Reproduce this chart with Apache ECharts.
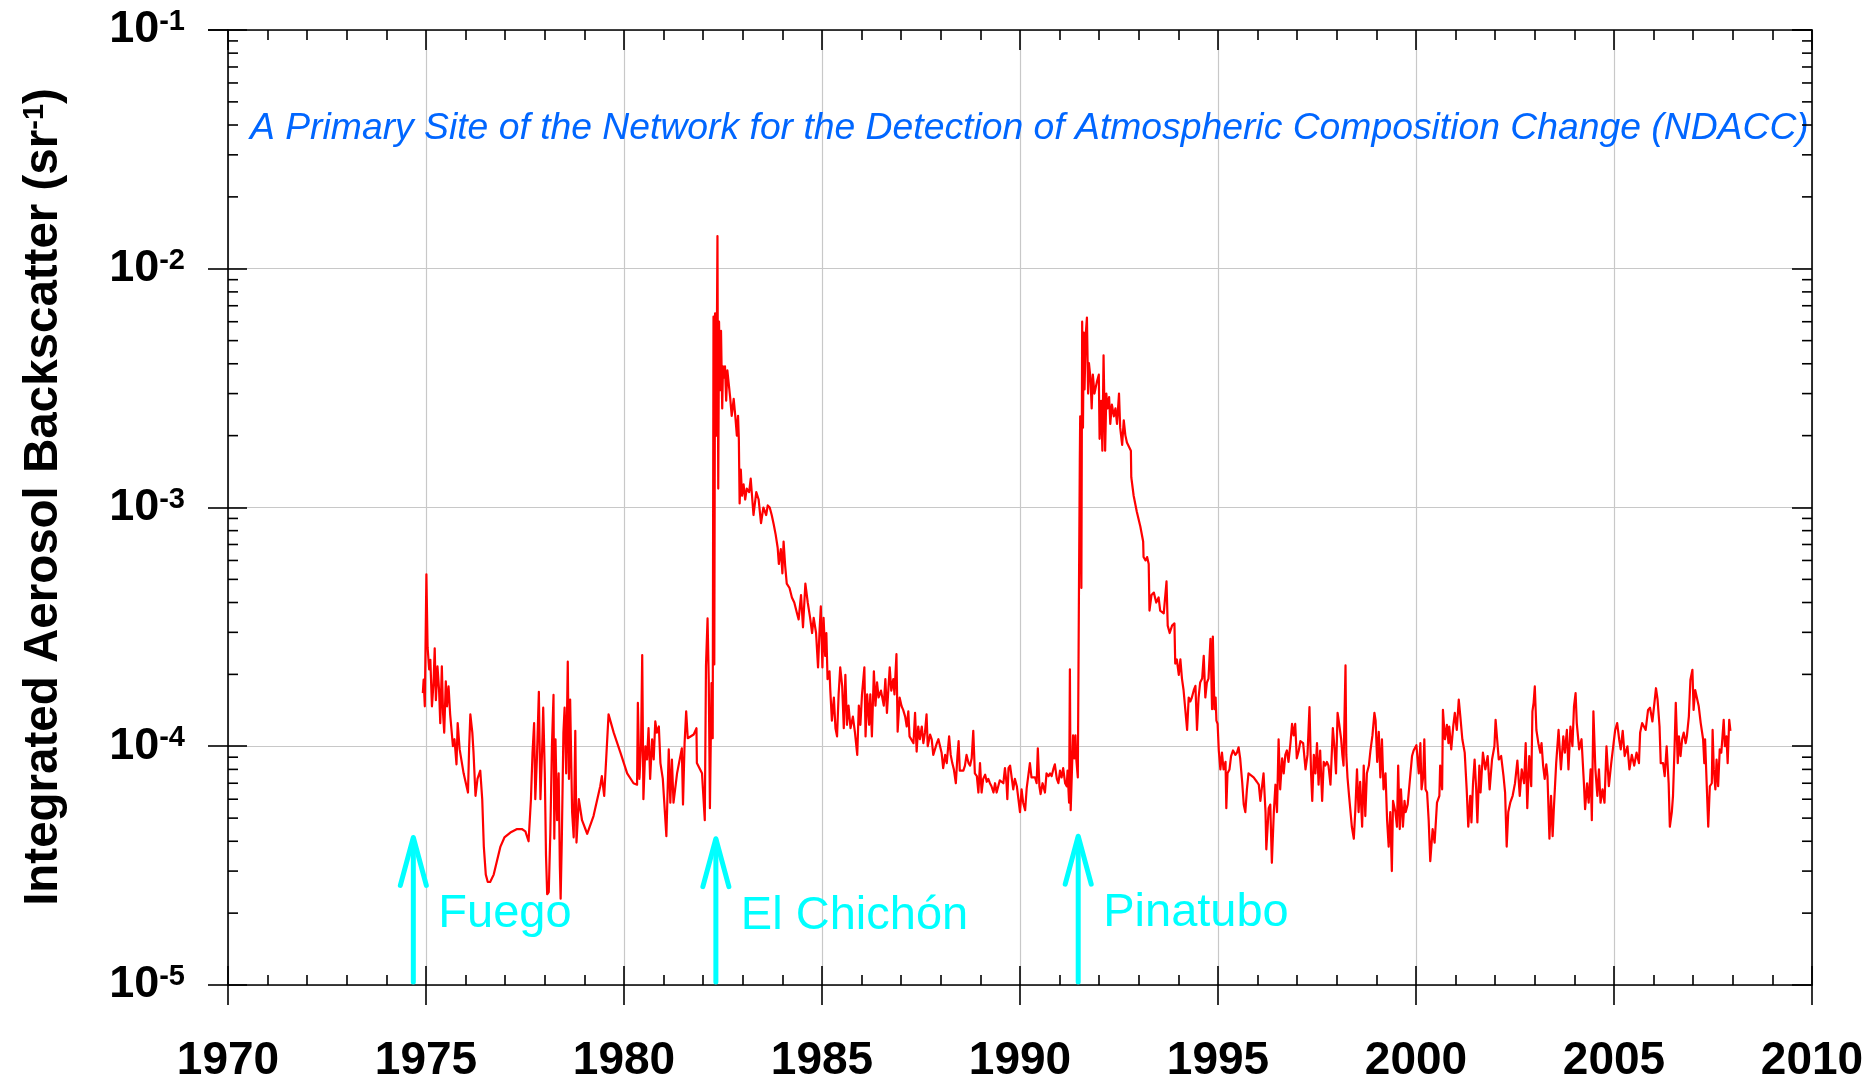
<!DOCTYPE html>
<html>
<head>
<meta charset="utf-8">
<script src="https://cdn.jsdelivr.net/npm/echarts@6/dist/echarts.min.js"></script>
<style>
html,body{margin:0;padding:0;background:#fff;}
#chart{width:1869px;height:1084px;}
</style>
</head>
<body>
<div id="chart"></div>
<script>
// ---------------- data ----------------
const xMin = 1970, xMax = 2010, xStep = 5;
const yMin = 1e-5, yMax = 1e-1;
const baselineLevel = 6e-5;               // dashed cyan background line
const subtitleText = 'A Primary Site of the Network for the Detection of Atmospheric Composition Change (NDACC)';
const yTitleMain = 'Integrated Aerosol Backscatter (sr';
const yTitleSup = '-1';

const volcanoNames = ['Fuego', 'El Chichón', 'Pinatubo'];
const volcanoYears = [1974.68, 1982.32, 1991.47];
const volcanoTipValues = [4.15e-5, 4.1e-5, 4.2e-5];
const volcanoBaseValue = 1.03e-5;

// 1974.9 - 1982.25 (Fuego period and quiet years)
const seg1975 = [
[1974.92,1.67e-4],[1974.94,1.9e-4],[1974.97,1.47e-4],[1975.01,5.25e-4],[1975.04,2.6e-4],[1975.08,2.1e-4],
[1975.11,2.3e-4],[1975.15,1.47e-4],[1975.19,1.84e-4],[1975.22,2.57e-4],[1975.25,1.56e-4],[1975.29,2.16e-4],
[1975.33,1.72e-4],[1975.36,1.25e-4],[1975.40,2.16e-4],[1975.43,1.38e-4],[1975.46,1.14e-4],[1975.50,1.87e-4],
[1975.53,1.47e-4],[1975.57,1.78e-4],[1975.61,1.36e-4],[1975.68,1.0e-4],[1975.72,1.07e-4],[1975.77,8.4e-5],
[1975.80,1.25e-4],[1975.85,9.7e-5],[1975.95,7.7e-5],[1976.06,6.4e-5],[1976.09,1.0e-4],[1976.12,1.36e-4],
[1976.14,1.34e-4],[1976.17,1.14e-4],[1976.20,9.4e-5],[1976.25,6.2e-5],[1976.30,7.3e-5],[1976.37,7.9e-5],
[1976.42,6.0e-5],[1976.46,3.8e-5],[1976.51,2.9e-5],[1976.56,2.7e-5],[1976.62,2.7e-5],[1976.71,2.9e-5],
[1976.79,3.3e-5],[1976.88,3.8e-5],[1976.98,4.15e-5],[1977.13,4.35e-5],[1977.30,4.5e-5],[1977.42,4.5e-5],
[1977.51,4.4e-5],[1977.59,4.0e-5],[1977.65,6.0e-5],[1977.69,9.4e-5],[1977.73,1.25e-4],[1977.76,6.0e-5],
[1977.80,8.8e-5],[1977.85,1.69e-4],[1977.89,6.0e-5],[1977.93,9.4e-5],[1977.96,1.45e-4],[1978.00,7.7e-5],
[1978.03,3.5e-5],[1978.06,2.4e-5],[1978.10,2.45e-5],[1978.14,4.35e-5],[1978.18,1.0e-4],[1978.22,1.64e-4],
[1978.24,4.1e-5],[1978.27,1.07e-4],[1978.31,4.9e-5],[1978.35,7.7e-5],[1978.38,3.16e-5],[1978.40,2.3e-5],
[1978.43,4.1e-5],[1978.47,1.14e-4],[1978.50,1.45e-4],[1978.54,7.7e-5],[1978.58,2.26e-4],[1978.61,7.3e-5],
[1978.64,1.57e-4],[1978.69,5.3e-5],[1978.73,4.15e-5],[1978.77,1.16e-4],[1978.80,3.95e-5],[1978.86,6.0e-5],
[1978.94,4.9e-5],[1979.07,4.3e-5],[1979.23,5.1e-5],[1979.40,6.8e-5],[1979.44,7.5e-5],[1979.50,6.2e-5],
[1979.61,1.36e-4],[1979.74,1.14e-4],[1979.91,9.4e-5],[1980.08,7.7e-5],[1980.24,7.0e-5],[1980.33,6.9e-5],
[1980.35,1.52e-4],[1980.39,7.3e-5],[1980.43,1.0e-4],[1980.46,2.41e-4],[1980.49,6.0e-5],[1980.54,1.0e-4],
[1980.58,8.8e-5],[1980.62,1.19e-4],[1980.66,7.3e-5],[1980.71,1.07e-4],[1980.75,8.8e-5],[1980.79,1.27e-4],
[1980.83,1.14e-4],[1980.88,1.21e-4],[1980.92,8.5e-5],[1980.98,7.3e-5],[1981.07,4.2e-5],[1981.13,9.7e-5],
[1981.17,5.8e-5],[1981.21,8.8e-5],[1981.25,5.8e-5],[1981.34,7.7e-5],[1981.46,9.8e-5],[1981.49,5.7e-5],
[1981.53,1.03e-4],[1981.57,1.40e-4],[1981.61,1.08e-4],[1981.76,1.12e-4],[1981.83,1.19e-4],[1981.84,8.5e-5],
[1981.97,7.7e-5],[1982.04,4.9e-5],[1982.07,2.16e-4],[1982.11,3.43e-4],[1982.14,1.9e-4],[1982.17,5.5e-5],
[1982.21,1.84e-4],[1982.24,1.08e-4]
];

// 1982.26 - 1987.0 (El Chichón)
const seg1982 = [
[1982.26,6.3e-3],[1982.28,2.2e-4],[1982.30,6.5e-3],[1982.33,2.0e-3],[1982.36,1.37e-2],[1982.38,1.2e-3],
[1982.40,6.0e-3],[1982.43,3.1e-3],[1982.45,5.5e-3],[1982.48,2.6e-3],[1982.50,3.9e-3],[1982.53,3.5e-3],
[1982.55,3.9e-3],[1982.58,2.8e-3],[1982.61,3.75e-3],[1982.65,3.24e-3],[1982.68,2.9e-3],[1982.72,2.42e-3],
[1982.77,2.85e-3],[1982.81,2.42e-3],[1982.85,2.0e-3],[1982.88,2.42e-3],[1982.90,1.94e-3],[1982.92,1.04e-3],
[1982.95,1.44e-3],[1982.98,1.12e-3],[1983.02,1.25e-3],[1983.06,1.08e-3],[1983.10,1.2e-3],[1983.16,1.16e-3],
[1983.20,1.32e-3],[1983.27,9.3e-4],[1983.34,1.16e-3],[1983.40,1.08e-3],[1983.46,8.6e-4],[1983.52,1.0e-3],
[1983.59,9.3e-4],[1983.63,1.02e-3],[1983.68,1.0e-3],[1983.73,9.3e-4],[1983.78,8.5e-4],[1983.83,7.7e-4],
[1983.88,6.8e-4],[1983.91,5.8e-4],[1983.96,6.7e-4],[1984.00,5.3e-4],[1984.03,7.2e-4],[1984.07,5.7e-4],
[1984.11,4.8e-4],[1984.18,4.6e-4],[1984.24,4.2e-4],[1984.30,4.0e-4],[1984.37,3.6e-4],[1984.41,3.4e-4],
[1984.47,4.3e-4],[1984.52,3.15e-4],[1984.58,4.8e-4],[1984.64,4.0e-4],[1984.70,3.45e-4],[1984.75,2.98e-4],
[1984.79,3.45e-4],[1984.85,2.98e-4],[1984.90,2.14e-4],[1984.94,3.1e-4],[1984.97,3.85e-4],[1985.01,2.14e-4],
[1985.04,3.45e-4],[1985.08,2.39e-4],[1985.11,2.98e-4],[1985.14,1.91e-4],[1985.19,2.06e-4],[1985.21,1.71e-4],
[1985.25,1.28e-4],[1985.30,1.6e-4],[1985.34,1.19e-4],[1985.38,1.1e-4],[1985.42,1.65e-4],[1985.46,2.14e-4],
[1985.51,1.78e-4],[1985.55,1.19e-4],[1985.59,1.99e-4],[1985.63,1.23e-4],[1985.67,1.48e-4],[1985.72,1.19e-4],
[1985.78,1.33e-4],[1985.83,1.15e-4],[1985.89,9.2e-5],[1985.93,1.48e-4],[1985.97,1.23e-4],[1986.01,1.65e-4],
[1986.07,2.14e-4],[1986.10,1.1e-4],[1986.14,1.65e-4],[1986.19,1.23e-4],[1986.22,1.65e-4],[1986.26,1.1e-4],
[1986.31,2.06e-4],[1986.35,1.48e-4],[1986.39,1.85e-4],[1986.43,1.6e-4],[1986.49,1.71e-4],[1986.56,1.48e-4],
[1986.60,1.91e-4],[1986.64,1.38e-4],[1986.71,2.14e-4],[1986.75,1.71e-4],[1986.80,1.91e-4],[1986.83,1.65e-4],
[1986.88,2.43e-4],[1986.91,1.15e-4],[1986.96,1.6e-4]
];

// 1987.0 - 1991.3 (decay to background)
const seg1987 = [
[1987.01,1.47e-4],[1987.05,1.42e-4],[1987.10,1.33e-4],[1987.14,1.21e-4],[1987.18,1.40e-4],[1987.21,1.10e-4],
[1987.26,1.10e-4],[1987.31,1.03e-4],[1987.35,1.38e-4],[1987.39,9.5e-5],[1987.43,1.21e-4],[1987.47,1.07e-4],
[1987.52,1.21e-4],[1987.56,1.03e-4],[1987.60,1.14e-4],[1987.64,1.36e-4],[1987.67,1.0e-4],[1987.73,1.12e-4],
[1987.77,1.07e-4],[1987.81,9.2e-5],[1987.85,9.1e-5],[1987.90,1.03e-4],[1987.94,1.07e-4],[1987.98,1.07e-4],
[1988.02,9.4e-5],[1988.06,8.1e-5],[1988.11,9.2e-5],[1988.15,8.5e-5],[1988.21,1.10e-4],[1988.25,9.2e-5],
[1988.29,8.5e-5],[1988.33,8.0e-5],[1988.38,7.0e-5],[1988.42,9.1e-5],[1988.45,1.05e-4],[1988.48,7.9e-5],
[1988.53,7.9e-5],[1988.57,7.9e-5],[1988.61,8.3e-5],[1988.65,9.2e-5],[1988.70,8.5e-5],[1988.74,8.3e-5],
[1988.78,8.9e-5],[1988.82,1.16e-4],[1988.86,7.7e-5],[1988.91,7.5e-5],[1988.95,6.4e-5],[1988.99,8.5e-5],
[1989.03,6.4e-5],[1989.07,7.3e-5],[1989.12,7.6e-5],[1989.16,7.1e-5],[1989.20,7.3e-5],[1989.24,7.0e-5],
[1989.28,6.8e-5],[1989.33,6.4e-5],[1989.37,7.0e-5],[1989.41,6.4e-5],[1989.45,6.5e-5],[1989.49,7.2e-5],
[1989.54,7.2e-5],[1989.58,7.0e-5],[1989.62,8.1e-5],[1989.66,7.0e-5],[1989.68,6.0e-5],[1989.71,8.1e-5],
[1989.75,8.3e-5],[1989.79,8.4e-5],[1989.83,6.6e-5],[1989.87,7.3e-5],[1989.92,6.8e-5],[1989.96,6.8e-5],
[1990.00,5.3e-5],[1990.04,6.6e-5],[1990.08,5.8e-5],[1990.13,5.4e-5],[1990.17,6.7e-5],[1990.21,6.8e-5],
[1990.25,8.5e-5],[1990.29,7.4e-5],[1990.34,7.3e-5],[1990.38,7.4e-5],[1990.42,7.0e-5],[1990.45,9.8e-5],
[1990.49,6.8e-5],[1990.52,6.3e-5],[1990.57,7.0e-5],[1990.63,6.4e-5],[1990.67,7.7e-5],[1990.72,7.5e-5],
[1990.76,7.7e-5],[1990.80,7.5e-5],[1990.84,8.0e-5],[1990.88,8.4e-5],[1990.93,7.3e-5],[1990.97,7.0e-5],
[1991.01,7.9e-5],[1991.05,7.4e-5],[1991.09,8.1e-5],[1991.14,7.0e-5],[1991.18,6.8e-5],[1991.20,7.9e-5],
[1991.24,5.8e-5],[1991.26,2.1e-4],[1991.28,5.4e-5]
];

// 1991.3 - 2000.4 (Pinatubo)
const seg1991 = [
[1991.34,1.11e-4],[1991.37,8.9e-5],[1991.40,1.11e-4],[1991.42,8.9e-5],[1991.46,7.4e-5],[1991.49,4.8e-4],
[1991.51,1.55e-3],[1991.52,2.41e-3],[1991.55,4.6e-4],[1991.57,6.0e-3],[1991.59,2.16e-3],[1991.61,5.4e-3],
[1991.63,3.12e-3],[1991.66,5.3e-3],[1991.69,6.25e-3],[1991.72,3.0e-3],[1991.74,4.03e-3],[1991.78,3.48e-3],
[1991.81,2.6e-3],[1991.84,3.6e-3],[1991.88,3.0e-3],[1991.91,3.0e-3],[1991.94,3.35e-3],[1991.99,3.6e-3],
[1992.01,1.94e-3],[1992.05,2.8e-3],[1992.08,1.73e-3],[1992.11,4.34e-3],[1992.15,1.73e-3],[1992.18,3.0e-3],
[1992.21,2.6e-3],[1992.25,2.9e-3],[1992.28,2.24e-3],[1992.32,2.7e-3],[1992.37,2.41e-3],[1992.41,2.6e-3],
[1992.45,2.24e-3],[1992.50,3.0e-3],[1992.53,2.16e-3],[1992.58,1.83e-3],[1992.62,2.32e-3],[1992.66,2.01e-3],
[1992.70,1.87e-3],[1992.77,1.77e-3],[1992.80,1.73e-3],[1992.81,1.34e-3],[1992.87,1.12e-3],[1992.95,9.6e-4],
[1993.04,8.3e-4],[1993.11,7.2e-4],[1993.12,6.2e-4],[1993.17,6.0e-4],[1993.21,6.2e-4],[1993.25,5.8e-4],
[1993.27,3.7e-4],[1993.32,4.3e-4],[1993.38,4.4e-4],[1993.44,4.0e-4],[1993.50,4.2e-4],[1993.54,3.7e-4],
[1993.63,3.6e-4],[1993.70,4.9e-4],[1993.73,3.2e-4],[1993.78,2.98e-4],[1993.84,3.2e-4],[1993.90,3.27e-4],
[1993.92,2.22e-4],[1993.96,2.31e-4],[1994.01,1.99e-4],[1994.05,2.31e-4],[1994.09,1.92e-4],[1994.13,1.72e-4],
[1994.18,1.69e-4],[1994.22,1.17e-4],[1994.26,1.6e-4],[1994.30,1.54e-4],[1994.34,1.6e-4],[1994.39,1.72e-4],
[1994.43,1.79e-4],[1994.47,1.17e-4],[1994.51,1.6e-4],[1994.55,1.85e-4],[1994.60,1.92e-4],[1994.64,2.39e-4],
[1994.68,1.6e-4],[1994.72,1.85e-4],[1994.76,1.92e-4],[1994.81,2.82e-4],[1994.85,1.43e-4],[1994.87,2.88e-4],
[1994.91,1.43e-4],[1994.94,1.6e-4],[1994.96,1.28e-4],[1994.99,1.24e-4],[1995.02,9.6e-5],[1995.06,8.0e-5],
[1995.10,9.4e-5],[1995.14,8.0e-5],[1995.19,8.6e-5],[1995.21,5.5e-5],[1995.24,7.7e-5],[1995.29,8.0e-5],
[1995.33,9.1e-5],[1995.38,9.6e-5],[1995.44,9.2e-5],[1995.48,9.4e-5],[1995.52,9.9e-5],[1995.56,8.9e-5],
[1995.61,7.1e-5],[1995.65,5.7e-5],[1995.69,5.3e-5],[1995.73,6.6e-5],[1995.77,7.7e-5],[1995.82,7.6e-5],
[1995.90,7.4e-5],[1995.98,7.1e-5],[1996.03,6.9e-5],[1996.07,5.9e-5],[1996.11,5.9e-5],[1996.15,7.7e-5],
[1996.20,5.3e-5],[1996.22,3.7e-5],[1996.28,5.5e-5],[1996.32,5.7e-5],[1996.36,3.25e-5],[1996.41,5.3e-5],
[1996.45,6.9e-5],[1996.49,5.3e-5],[1996.53,1.07e-4],[1996.57,6.6e-5],[1996.62,8.9e-5],[1996.66,7.7e-5],
[1996.70,9.2e-5],[1996.74,9.6e-5],[1996.78,8.6e-5],[1996.83,1.03e-4],[1996.87,1.24e-4],[1996.91,1.11e-4],
[1996.95,1.24e-4],[1996.99,8.9e-5],[1997.04,9.6e-5],[1997.08,1.05e-4],[1997.15,1.03e-4],[1997.21,8.0e-5],
[1997.26,9.2e-5],[1997.31,1.46e-4],[1997.35,7.7e-5],[1997.38,5.9e-5],[1997.42,9.2e-5],[1997.46,7.7e-5],
[1997.50,1.03e-4],[1997.54,6.9e-5],[1997.58,9.6e-5],[1997.63,5.9e-5],[1997.67,8.6e-5],[1997.71,8.3e-5],
[1997.75,8.6e-5],[1997.79,8.3e-5],[1997.84,6.9e-5],[1997.90,1.19e-4],[1997.94,9.9e-5],[1997.98,7.7e-5],
[1998.02,1.38e-4],[1998.06,1.24e-4],[1998.11,1.07e-4],[1998.14,9.2e-5],[1998.17,8.3e-5],[1998.22,2.18e-4],
[1998.24,9.2e-5],[1998.27,7.4e-5],[1998.31,6.2e-5],[1998.34,6.2e-5],[1998.38,4.6e-5],[1998.43,4.1e-5],
[1998.47,5.5e-5],[1998.51,8.0e-5],[1998.55,5.3e-5],[1998.59,7.1e-5],[1998.64,4.6e-5],[1998.68,8.3e-5],
[1998.72,5.1e-5],[1998.76,7.7e-5],[1998.81,8.3e-5],[1998.85,9.6e-5],[1998.90,1.11e-4],[1998.95,1.38e-4],
[1998.98,1.28e-4],[1999.02,8.6e-5],[1999.06,1.15e-4],[1999.10,7.4e-5],[1999.14,1.07e-4],[1999.18,6.6e-5],
[1999.23,7.7e-5],[1999.27,4.9e-5],[1999.31,3.8e-5],[1999.35,5.3e-5],[1999.39,3.0e-5],[1999.42,5.9e-5],
[1999.48,5.3e-5],[1999.52,4.6e-5],[1999.55,8.3e-5],[1999.59,4.5e-5],[1999.62,6.6e-5],[1999.67,4.6e-5],
[1999.71,5.9e-5],[1999.74,5.3e-5],[1999.79,5.7e-5],[1999.86,7.7e-5],[1999.90,9.1e-5],[1999.94,9.6e-5],
[2000.01,1.01e-4],[2000.07,7.7e-5],[2000.11,1.03e-4],[2000.14,6.6e-5],[2000.18,7.4e-5],[2000.21,1.07e-4],
[2000.24,6.6e-5],[2000.28,6.4e-5],[2000.32,4.9e-5],[2000.36,3.3e-5]
];

// 2000.4 - 2007.95 (background)
const seg2000 = [
[2000.42,4.5e-5],[2000.47,3.95e-5],[2000.53,5.8e-5],[2000.59,6.2e-5],[2000.61,8.3e-5],[2000.66,6.6e-5],
[2000.68,1.42e-4],[2000.73,1.07e-4],[2000.78,1.23e-4],[2000.82,1.03e-4],[2000.84,1.21e-4],[2000.89,9.7e-5],
[2000.94,1.21e-4],[2000.98,1.38e-4],[2001.03,1.17e-4],[2001.08,1.57e-4],[2001.12,1.33e-4],[2001.17,1.07e-4],
[2001.23,9.4e-5],[2001.28,6.6e-5],[2001.32,4.6e-5],[2001.37,6.2e-5],[2001.40,4.8e-5],[2001.44,7.0e-5],
[2001.48,8.8e-5],[2001.52,6.6e-5],[2001.55,4.8e-5],[2001.60,8.3e-5],[2001.63,6.4e-5],[2001.69,9.4e-5],
[2001.75,8.0e-5],[2001.81,9.1e-5],[2001.86,6.6e-5],[2001.92,8.8e-5],[2001.98,1.0e-4],[2002.01,1.29e-4],
[2002.05,1.27e-4],[2002.09,8.8e-5],[2002.15,9.1e-5],[2002.21,7.5e-5],[2002.25,6.4e-5],[2002.29,3.8e-5],
[2002.33,5.3e-5],[2002.38,5.8e-5],[2002.44,6.2e-5],[2002.50,7.0e-5],[2002.56,8.7e-5],[2002.62,6.2e-5],
[2002.67,8.0e-5],[2002.73,7.0e-5],[2002.77,1.03e-4],[2002.81,5.5e-5],[2002.86,9.1e-5],[2002.91,6.8e-5],
[2002.94,1.40e-4],[2002.97,1.52e-4],[2003.00,1.78e-4],[2003.04,1.17e-4],[2003.09,1.03e-4],[2003.14,9.4e-5],
[2003.17,1.03e-4],[2003.21,8.3e-5],[2003.25,7.3e-5],[2003.29,8.4e-5],[2003.32,7.5e-5],[2003.37,4.1e-5],
[2003.41,6.2e-5],[2003.45,4.2e-5],[2003.48,5.45e-5],[2003.54,8.5e-5],[2003.60,1.17e-4],[2003.66,8.0e-5],
[2003.72,1.10e-4],[2003.76,9.4e-5],[2003.81,1.17e-4],[2003.85,8.0e-5],[2003.90,1.21e-4],[2003.95,1.0e-4],
[2003.99,1.47e-4],[2004.03,1.67e-4],[2004.06,1.25e-4],[2004.12,9.7e-5],[2004.18,1.07e-4],[2004.24,7.0e-5],
[2004.27,5.45e-5],[2004.32,7.0e-5],[2004.36,5.8e-5],[2004.41,8.0e-5],[2004.44,4.9e-5],[2004.48,1.40e-4],
[2004.53,8.0e-5],[2004.58,6.2e-5],[2004.62,8.0e-5],[2004.66,5.8e-5],[2004.71,6.6e-5],[2004.76,5.8e-5],
[2004.81,1.0e-4],[2004.87,6.8e-5],[2004.93,8.5e-5],[2004.99,1.03e-4],[2005.03,1.17e-4],[2005.08,1.25e-4],
[2005.13,1.07e-4],[2005.17,9.7e-5],[2005.22,1.16e-4],[2005.27,9.1e-5],[2005.34,1.0e-4],[2005.39,8.0e-5],
[2005.45,9.2e-5],[2005.51,8.3e-5],[2005.57,9.4e-5],[2005.63,8.5e-5],[2005.66,1.14e-4],[2005.71,1.25e-4],
[2005.75,1.25e-4],[2005.80,1.17e-4],[2005.86,1.42e-4],[2005.91,1.45e-4],[2005.97,1.27e-4],[2006.03,1.57e-4],
[2006.06,1.75e-4],[2006.10,1.57e-4],[2006.15,1.21e-4],[2006.18,8.5e-5],[2006.24,8.5e-5],[2006.28,7.5e-5],
[2006.33,1.0e-4],[2006.38,7.0e-5],[2006.41,4.6e-5],[2006.46,5.3e-5],[2006.49,6.2e-5],[2006.53,1.0e-4],
[2006.56,1.52e-4],[2006.61,8.5e-5],[2006.64,1.10e-4],[2006.68,9.1e-5],[2006.72,1.07e-4],[2006.76,1.14e-4],
[2006.81,1.03e-4],[2006.84,1.10e-4],[2006.89,1.33e-4],[2006.93,1.90e-4],[2006.98,2.09e-4],[2007.01,1.42e-4],
[2007.05,1.72e-4],[2007.09,1.75e-4],[2007.14,1.47e-4],[2007.19,1.25e-4],[2007.25,1.07e-4],[2007.28,8.5e-5],
[2007.30,1.07e-4],[2007.34,7.0e-5],[2007.38,4.6e-5],[2007.42,6.8e-5],[2007.47,7.0e-5],[2007.49,1.17e-4],
[2007.52,8.0e-5],[2007.56,6.6e-5],[2007.59,8.8e-5],[2007.63,6.8e-5],[2007.67,9.7e-5],[2007.71,9.4e-5],
[2007.74,1.10e-4],[2007.77,1.29e-4],[2007.80,1.0e-4],[2007.84,1.10e-4],[2007.87,8.5e-5],[2007.91,1.29e-4],
[2007.94,1.16e-4]
];

// ---------------- chart ----------------
const FONT = '"Liberation Sans", Arial, Helvetica, sans-serif';
const BLACK = '#000000';
const GRID_GREY = '#c8c8c8';
const CYAN = '#00ffff';
const RED = '#ff0000';
const BLUE = '#0066ff';

const backscatter = [].concat(seg1975, seg1982, seg1987, seg1991, seg2000);

// minor tick values of the log axis (2..9 x each decade)
const yMinorTicks = [];
for (let e = -5; e < -1; e++) {
  for (let m = 2; m <= 9; m++) yMinorTicks.push(m * Math.pow(10, e));
}

const chart = echarts.init(document.getElementById('chart'), null, {renderer: 'canvas'});

const axisLineStyle = {color: BLACK, width: 1.6};
const tickStyle = {color: BLACK, width: 1.6};

const option = {
  animation: false,
  backgroundColor: '#ffffff',
  title: {
    text: subtitleText,
    left: 250,
    top: 110,
    padding: 0,
    textStyle: {color: BLUE, fontStyle: 'italic', fontWeight: 'normal', fontSize: 37.3, lineHeight: 37, fontFamily: FONT}
  },
  grid: {left: 228, right: 57, top: 30, bottom: 95, containLabel: false},
  xAxis: [
    {
      type: 'value', min: xMin, max: xMax, interval: xStep, position: 'bottom',
      axisLine: {show: true, onZero: false, lineStyle: axisLineStyle},
      axisTick: {show: true, inside: true, length: 19, lineStyle: tickStyle},
      minorTick: {show: true, splitNumber: 5, length: 10, lineStyle: tickStyle},
      axisLabel: {show: true, margin: 53, fontSize: 46, lineHeight: 46, fontWeight: 'bold', fontFamily: FONT, color: BLACK,
                  formatter: function (v) { return String(Math.round(v)); }},
      splitLine: {show: true, lineStyle: {color: GRID_GREY, width: 1.2}},
      minorSplitLine: {show: false}
    },
    {
      type: 'value', min: xMin, max: xMax, interval: xStep, position: 'bottom',
      axisLine: {show: false, onZero: false},
      axisTick: {show: true, inside: false, length: 20, lineStyle: tickStyle},
      axisLabel: {show: false},
      splitLine: {show: false}
    },
    {
      type: 'value', min: xMin, max: xMax, interval: xStep, position: 'top',
      axisLine: {show: true, onZero: false, lineStyle: axisLineStyle},
      axisTick: {show: true, inside: true, length: 20, lineStyle: tickStyle},
      minorTick: {show: true, splitNumber: 5, length: 10, lineStyle: tickStyle},
      axisLabel: {show: false},
      splitLine: {show: false}
    }
  ],
  yAxis: [
    {
      type: 'log', logBase: 10, min: yMin, max: yMax, position: 'left',
      axisLine: {show: true, onZero: false, lineStyle: axisLineStyle},
      axisTick: {show: true, inside: true, length: 19, lineStyle: tickStyle},
      axisLabel: {
        show: true, margin: 43,
        formatter: function (v) {
          const e = Math.round(Math.log10(v));
          return '{b|10}{s|' + e + '}';
        },
        rich: {
          b: {fontSize: 45, lineHeight: 45, fontWeight: 'bold', fontFamily: FONT, color: BLACK},
          s: {fontSize: 29, lineHeight: 28, fontWeight: 'bold', fontFamily: FONT, color: BLACK, verticalAlign: 'top'}
        }
      },
      splitLine: {show: true, lineStyle: {color: GRID_GREY, width: 1.2}}
    },
    {
      type: 'log', logBase: 10, min: yMin, max: yMax, position: 'left',
      axisLine: {show: false, onZero: false},
      axisTick: {show: true, inside: false, length: 20, lineStyle: tickStyle},
      axisLabel: {show: false},
      splitLine: {show: false}
    },
    {
      type: 'log', logBase: 10, min: yMin, max: yMax, position: 'right',
      axisLine: {show: true, onZero: false, lineStyle: axisLineStyle},
      axisTick: {show: true, inside: true, length: 20, lineStyle: tickStyle},
      axisLabel: {show: false},
      splitLine: {show: false}
    }
  ],
  graphic: [
    {
      type: 'text',
      x: 44, y: 497,
      rotation: Math.PI / 2,
      style: {
        text: '{t|' + yTitleMain + '}{s|' + yTitleSup + '}{t|)}',
        align: 'center', verticalAlign: 'middle',
        rich: {
          t: {fontSize: 47.5, lineHeight: 48, fontWeight: 'bold', fontFamily: FONT, fill: BLACK},
          s: {fontSize: 29, lineHeight: 32, fontWeight: 'bold', fontFamily: FONT, fill: BLACK, verticalAlign: 'top'}
        }
      }
    }
  ],
  series: [
    {
      // dashed background reference line
      type: 'line', xAxisIndex: 0, yAxisIndex: 0, data: [], z: 2, silent: true,
      markLine: {
        silent: true, symbol: 'none', animation: false,
        label: {show: false},
        lineStyle: {color: CYAN, type: [14, 7], width: 1.5},
        data: [{yAxis: baselineLevel}]
      }
    },
    {
      name: 'backscatter',
      type: 'line', xAxisIndex: 0, yAxisIndex: 0,
      data: backscatter,
      showSymbol: false, symbol: 'none', z: 3,
      sampling: null,
      lineStyle: {color: RED, width: 2.2, join: 'round'},
      silent: true
    },
    {
      // log-axis minor ticks on left and right spines
      type: 'custom', xAxisIndex: 0, yAxisIndex: 0, z: 10, silent: true, clip: false,
      data: yMinorTicks.map(v => [xMin, v]),
      encode: {x: 0, y: 1},
      renderItem: function (params, api) {
        const v = api.value(1);
        const pl = api.coord([xMin, v]);
        const pr = api.coord([xMax, v]);
        return {
          type: 'group',
          children: [
            {type: 'line', shape: {x1: pl[0], y1: pl[1], x2: pl[0] + 10, y2: pl[1]}, style: {stroke: BLACK, lineWidth: 1.6}},
            {type: 'line', shape: {x1: pr[0] - 10, y1: pr[1], x2: pr[0], y2: pr[1]}, style: {stroke: BLACK, lineWidth: 1.6}}
          ]
        };
      }
    },
    {
      // eruption arrows and names
      type: 'custom', xAxisIndex: 0, yAxisIndex: 0, z: 12, silent: true, clip: false,
      data: volcanoYears.map((yr, i) => [yr, volcanoTipValues[i], volcanoBaseValue, i]),
      encode: {x: 0, y: 1},
      renderItem: function (params, api) {
        const tip = api.coord([api.value(0), api.value(1)]);
        const base = api.coord([api.value(0), api.value(2)]);
        const name = volcanoNames[api.value(3)];
        return {
          type: 'group',
          children: [
            {type: 'line', shape: {x1: base[0], y1: base[1], x2: tip[0], y2: tip[1] + 2},
             style: {stroke: CYAN, lineWidth: 5, lineCap: 'round'}},
            {type: 'polyline', shape: {points: [[tip[0] - 13, tip[1] + 48], [tip[0], tip[1]], [tip[0] + 13, tip[1] + 48]]},
             style: {stroke: CYAN, fill: null, lineWidth: 5, lineCap: 'round', lineJoin: 'round'}},
            {type: 'text', x: tip[0] + 25, y: tip[1] + 77,
             style: {text: name, fill: CYAN, fontSize: 47, fontFamily: FONT, align: 'left', verticalAlign: 'middle'}}
          ]
        };
      }
    }
  ]
};

chart.setOption(option);
</script>
</body>
</html>
